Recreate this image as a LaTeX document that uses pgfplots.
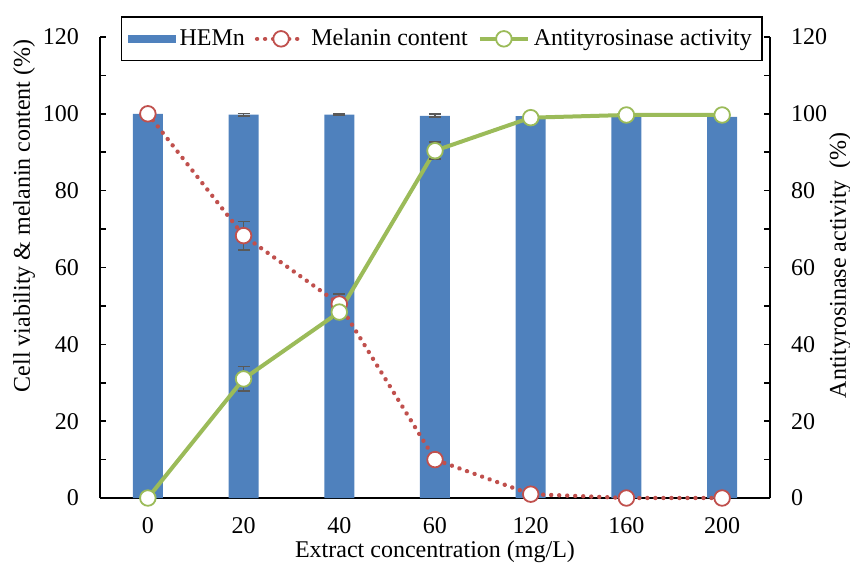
\documentclass[border=0pt]{standalone}
\usepackage{fontspec}
\setmainfont{Liberation Serif}
\usepackage{pgfplots}
\pgfplotsset{compat=1.18}
\definecolor{barblue}{HTML}{4F81BD}
\definecolor{mred}{HTML}{C0504D}
\definecolor{agreen}{HTML}{9BBB59}
\definecolor{errgray}{HTML}{595959}
\begin{document}
\begin{tikzpicture}[font=\rmfamily]
\pgfplotsset{
  common/.style={
    scale only axis, width=335pt, height=230.5pt,
    xmin=-0.5, xmax=6.5, ymin=0, ymax=120,
    ytick={0,20,...,120}, minor y tick num=1,
    major tick length=3pt, minor tick length=3pt,
    tick align=inside,
    every tick/.style={black, line width=0.8pt},
    axis line style={black, line width=0.8pt},
    /pgf/number format/assume math mode=true,
    ticklabel style={font=\rmfamily\fontsize{12}{14}\selectfont},
    clip=false,
  }
}
\begin{axis}[common,
  at={(0,0)}, anchor=south west,
  axis y line*=left, axis x line*=bottom,
  xtick={0,...,6}, xticklabels={0,20,40,60,120,160,200},
  xtick style={draw=none},
  minor xtick={0.5,1.5,...,5.5},
  xticklabel style={yshift=-6pt},
  yticklabel style={xshift=-7pt},
  legend style={at={(rel axis cs:0.51,0.996)}, anchor=center,
    legend columns=-1, draw=black, line width=0.8pt, fill=white,
    font=\rmfamily\fontsize{12}{14}\selectfont, inner ysep=4pt, inner xsep=3pt,
    /tikz/every even column/.append style={column sep=3pt}},
  legend cell align=left,
]
\addplot[ybar, bar width=15pt, fill=barblue, draw=none,
  legend image code/.code={\fill[barblue] (0pt,-2pt) rectangle (24pt,2pt);}]
  coordinates {(0,100) (1,99.8) (2,99.8) (3,99.5) (4,99.4) (5,99.6) (6,99.2)};
\addlegendentry{HEMn}
\addplot[forget plot, draw=none, mark=none,
  error bars/.cd, y dir=both, y explicit,
  error bar style={draw=errgray, line width=0.8pt},
  error mark options={rotate=90, draw=errgray, mark size=3pt, line width=0.8pt}]
  coordinates {(1,99.8) +- (0,0.3) (2,99.8) +- (0,0.2) (3,99.5) +- (0,0.4)};
\addplot[mred, line width=2.2pt, line cap=round, dash pattern=on 0.01pt off 4pt,
  mark=*, mark size=3.9pt, mark options={solid, fill=white, draw=mred, line width=0.9pt},
  legend image code/.code={
    \draw[mred, line width=2.2pt, line cap=round, dash pattern=on 0.01pt off 4pt] (0pt,0pt) -- (24pt,0pt);
    \draw[solid, mred, fill=white, line width=0.9pt] (12pt,0pt) circle (3.9pt);},
  error bars/.cd, y dir=both, y explicit,
  error bar style={draw=errgray, line width=0.8pt, solid, line cap=butt},
  error mark options={rotate=90, draw=errgray, mark size=3pt, line width=0.8pt, solid},
  ]
  coordinates {(0,100) +- (0,0) (1,68.3) +- (0,3.7) (2,50.5) +- (0,2.6) (3,10) +- (0,0) (4,1.0) +- (0,0) (5,0) +- (0,0) (6,0) +- (0,0)};
\addlegendentry{Melanin content}
\addplot[agreen, line width=2pt,
  mark=*, mark size=3.9pt, mark options={solid, fill=white, draw=agreen, line width=0.9pt},
  legend image code/.code={
    \draw[agreen, line width=2pt] (0pt,0pt) -- (24pt,0pt);
    \draw[solid, agreen, fill=white, line width=0.9pt] (12pt,0pt) circle (3.9pt);},
  error bars/.cd, y dir=both, y explicit,
  error bar style={draw=errgray, line width=0.8pt},
  error mark options={rotate=90, draw=errgray, mark size=3pt, line width=0.8pt},
  ]
  coordinates {(0,0) +- (0,0) (1,31) +- (0,3.2) (2,48.4) +- (0,1.5) (3,90.4) +- (0,2.2) (4,99.0) +- (0,0) (5,99.7) +- (0,0) (6,99.7) +- (0,0)};
\addlegendentry{Antityrosinase activity}
\node[rotate=90, font=\rmfamily\fontsize{12}{14}\selectfont] at (rel axis cs:-0.1134,0.612) {Cell viability \& melanin content (\%)};
\node[font=\rmfamily\fontsize{12}{14}\selectfont] at (rel axis cs:0.5,0) [yshift=-27pt] {Extract concentration (mg/L)};
\end{axis}
\begin{axis}[common,
  at={(0,0)}, anchor=south west,
  axis y line*=right, axis x line=none,
  yticklabel style={xshift=7pt},
]
\addplot[draw=none] coordinates {(0,0)};
\node[rotate=90, font=\rmfamily\fontsize{12}{14}\selectfont] at (rel axis cs:1.1045,0.505) {Antityrosinase activity\ \ (\%)};
\end{axis}
\pgfresetboundingbox
\path[use as bounding box] (-50pt,-35pt) rectangle (375pt,249pt);
\end{tikzpicture}
\end{document}
